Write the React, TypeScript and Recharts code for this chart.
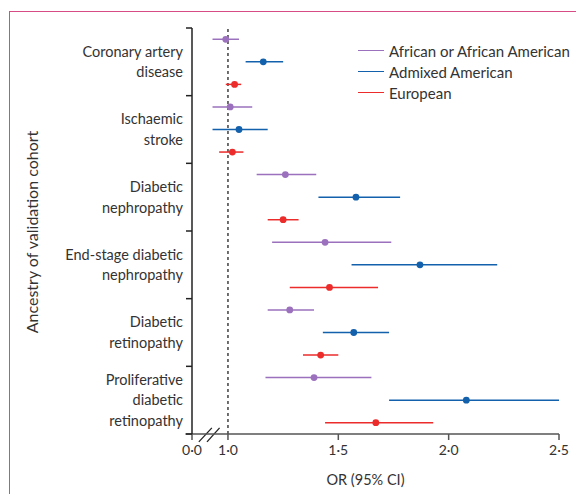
import React from "react";
import {
  ErrorBar,
  ReferenceLine,
  Scatter,
  ScatterChart,
  XAxis,
  YAxis,
} from "recharts";

// outcome groups, each label split into its printed lines
const OUTCOMES: string[][] = [
  ["Coronary artery", "disease"],
  ["Ischaemic", "stroke"],
  ["Diabetic", "nephropathy"],
  ["End-stage diabetic", "nephropathy"],
  ["Diabetic", "retinopathy"],
  ["Proliferative", "diabetic", "retinopathy"],
];

const ANCESTRIES = ["African or African American", "Admixed American", "European"];
const COLORS = ["#9b70bd", "#1360ac", "#ec2b2b"];

// odds ratio and 95% CI per outcome, one set of arrays per ancestry
const AFR_OR = [0.99, 1.01, 1.26, 1.44, 1.28, 1.39];
const AFR_LO = [0.93, 0.93, 1.13, 1.2, 1.18, 1.17];
const AFR_HI = [1.05, 1.11, 1.4, 1.74, 1.39, 1.65];

const AMR_OR = [1.16, 1.05, 1.58, 1.87, 1.57, 2.08];
const AMR_LO = [1.08, 0.93, 1.41, 1.56, 1.43, 1.73];
const AMR_HI = [1.25, 1.18, 1.78, 2.22, 1.73, 2.5];

const EUR_OR = [1.03, 1.02, 1.25, 1.46, 1.42, 1.67];
const EUR_LO = [0.99, 0.96, 1.18, 1.28, 1.34, 1.44];
const EUR_HI = [1.06, 1.07, 1.32, 1.68, 1.5, 1.93];

// the axis is broken between 0 and 1: the "0·0" tick sits just left of 1·0
const BREAK_X = 0.837;
const X_TICKS = [BREAK_X, 1, 1.5, 2, 2.5];

const PER_GROUP = 3;
const ROWS = OUTCOMES.length * PER_GROUP;

const seriesData = [
  [AFR_OR, AFR_LO, AFR_HI],
  [AMR_OR, AMR_LO, AMR_HI],
  [EUR_OR, EUR_LO, EUR_HI],
].map(([or, lo, hi], s) =>
  or.map((v, g) => ({
    or: v,
    row: g * PER_GROUP + s + 0.5,
    err: [v - lo[g], hi[g] - v],
  }))
);

// group boundaries get a small tick, group centres get the label
const Y_TICKS: number[] = [];
for (let i = 0; i <= ROWS; i += 1.5) Y_TICKS.push(i);

const fmt = (v: number) => (v === BREAK_X ? "0·0" : v.toFixed(1).replace(".", "·"));

function GroupTick(props: any) {
  const { x, y, payload } = props;
  const v = payload.value as number;
  if (v % PER_GROUP === 0) {
    return <line x1={x + 2} x2={x + 8} y1={y} y2={y} stroke="#222" strokeWidth={1.5} />;
  }
  const lines = OUTCOMES[Math.floor(v / PER_GROUP)];
  const lh = 20.5;
  const top = y - ((lines.length - 1) * lh) / 2;
  return (
    <text x={x - 1} y={top} textAnchor="end" fill="#333" fontSize={14.5}>
      {lines.map((l, i) => (
        <tspan key={i} x={x - 1} y={top + i * lh} dy="0.36em">
          {l}
        </tspan>
      ))}
    </text>
  );
}

function Dot(props: any) {
  return <circle cx={props.cx} cy={props.cy} r={3.4} fill={props.fill} />;
}

export default function App() {
  return (
    <div style={{ position: "absolute", left: 0, top: 0, width: 576, height: 494, overflow: "hidden", fontFamily: "Lato, sans-serif", background: "#fff" }}>
      <div
        style={{
          position: "absolute",
          left: 9,
          top: 11,
          width: 640,
          height: 600,
          border: "1.5px solid #d84c85",
        }}
      />
      <ScatterChart width={576} height={494} margin={{ top: 28, right: 17, bottom: 10, left: 30 }}>
        <XAxis
          type="number"
          dataKey="or"
          domain={[BREAK_X, 2.5]}
          ticks={X_TICKS}
          tickFormatter={fmt}
          allowDataOverflow
          height={50}
          stroke="#555"
          strokeWidth={1.5}
          tickSize={6}
          tickMargin={5}
          tick={{ fill: "#333", fontSize: 14 }}
          label={{ value: "OR (95% CI)", position: "insideBottom", offset: 0, dx: -10, dy: 1, fill: "#333", fontSize: 14.5 }}
        />
        <YAxis
          type="number"
          dataKey="row"
          domain={[0, ROWS]}
          reversed
          ticks={Y_TICKS}
          interval={0}
          width={162}
          tickSize={6}
          tickMargin={2}
          tickLine={false}
          tick={<GroupTick />}
          stroke="#222"
          strokeWidth={1.5}
          label={{
            content: () => (
              <text x={34} y={232} transform="rotate(-90 34 232)" textAnchor="middle" dominantBaseline="middle" fill="#333" fontSize={16}>
                Ancestry of validation cohort
              </text>
            ),
          }}
        />
        <ReferenceLine x={1} stroke="#222" strokeWidth={1.3} strokeDasharray="3 3" />
        {/* short stub of the x axis left of the 0·0 tick, plus the two break slashes */}
        <ReferenceLine segment={[{ x: BREAK_X - 0.03, y: ROWS }, { x: BREAK_X, y: ROWS }]} stroke="#555" strokeWidth={1.5} ifOverflow="visible" />
        <ReferenceLine segment={[{ x: 0.868, y: 18.35 }, { x: 0.927, y: 17.73 }]} stroke="#222" strokeWidth={1.3} ifOverflow="visible" />
        <ReferenceLine segment={[{ x: 0.905, y: 18.35 }, { x: 0.962, y: 17.73 }]} stroke="#222" strokeWidth={1.3} ifOverflow="visible" />
        {seriesData.map((data, s) => (
          <Scatter
            key={ANCESTRIES[s]}
            name={ANCESTRIES[s]}
            data={data}
            fill={COLORS[s]}
            shape={<Dot />}
            isAnimationActive={false}
          >
            <ErrorBar dataKey="err" direction="x" width={0} stroke={COLORS[s]} strokeWidth={1.5} />
          </Scatter>
        ))}
      </ScatterChart>
      <div style={{ position: "absolute", left: 358, top: 40 }}>
        {ANCESTRIES.map((name, i) => (
          <div
            key={name}
            style={{ display: "flex", alignItems: "center", height: 21, fontSize: 15, color: "#333" }}
          >
            <span style={{ width: 26, height: 1.5, background: COLORS[i], marginRight: 5 }} />
            {name}
          </div>
        ))}
      </div>
    </div>
  );
}
